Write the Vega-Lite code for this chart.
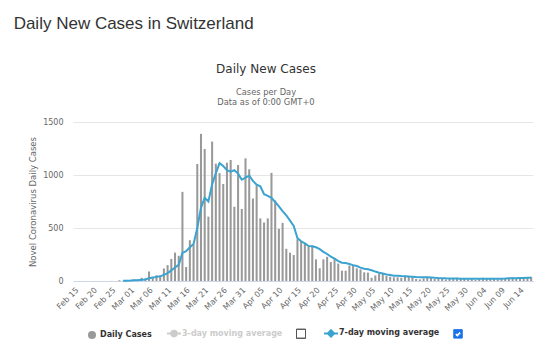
{
  "$schema": "https://vega.github.io/schema/vega-lite/v6.json",
  "background": "white",
  "padding": {"left": 13, "top": 14, "right": 5, "bottom": 5},
  "title": {"text": "Daily New Cases in Switzerland", "anchor": "start", "frame": "bounds", "dx": -15, "font": "Liberation Sans", "fontSize": 17, "fontWeight": "normal", "color": "#333333", "offset": 30},
  "vconcat": [
    {
      "width": 460,
      "height": 159,
      "title": {"text": "Daily New Cases", "subtitle": ["Cases per Day", "Data as of 0:00 GMT+0"], "anchor": "middle", "frame": "group", "dx": -37, "font": "DejaVu Sans", "fontSize": 12, "fontWeight": "normal", "color": "#333333", "subtitleFont": "DejaVu Sans", "subtitleFontSize": 8.3, "subtitleColor": "#666666", "subtitlePadding": 12, "subtitleLineHeight": 10, "offset": 11},
      "data": {"values": [
        {"d": "Feb 15", "c": 0}, {"d": "Feb 16", "c": 0}, {"d": "Feb 17", "c": 0}, {"d": "Feb 18", "c": 0}, {"d": "Feb 19", "c": 0},
        {"d": "Feb 20", "c": 0}, {"d": "Feb 21", "c": 0}, {"d": "Feb 22", "c": 0}, {"d": "Feb 23", "c": 0}, {"d": "Feb 24", "c": 0},
        {"d": "Feb 25", "c": 1}, {"d": "Feb 26", "c": 0}, {"d": "Feb 27", "c": 7}, {"d": "Feb 28", "c": 1, "m": 2}, {"d": "Feb 29", "c": 10, "m": 3},
        {"d": "Mar 01", "c": 9, "m": 4}, {"d": "Mar 02", "c": 15, "m": 6}, {"d": "Mar 03", "c": 16, "m": 8}, {"d": "Mar 04", "c": 30, "m": 12}, {"d": "Mar 05", "c": 24, "m": 15},
        {"d": "Mar 06", "c": 90, "m": 27}, {"d": "Mar 07", "c": 40, "m": 32}, {"d": "Mar 08", "c": 55, "m": 39}, {"d": "Mar 09", "c": 50, "m": 44}, {"d": "Mar 10", "c": 118, "m": 58},
        {"d": "Mar 11", "c": 150, "m": 75}, {"d": "Mar 12", "c": 208, "m": 100}, {"d": "Mar 13", "c": 268, "m": 127}, {"d": "Mar 14", "c": 238, "m": 152}, {"d": "Mar 15", "c": 841, "m": 265},
        {"d": "Mar 16", "c": 132, "m": 282}, {"d": "Mar 17", "c": 385, "m": 318}, {"d": "Mar 18", "c": 345, "m": 350}, {"d": "Mar 19", "c": 1104, "m": 500}, {"d": "Mar 20", "c": 1388, "m": 690},
        {"d": "Mar 21", "c": 1245, "m": 785}, {"d": "Mar 22", "c": 607, "m": 750}, {"d": "Mar 23", "c": 1315, "m": 912}, {"d": "Mar 24", "c": 1107, "m": 1016}, {"d": "Mar 25", "c": 1018, "m": 1112},
        {"d": "Mar 26", "c": 915, "m": 1085}, {"d": "Mar 27", "c": 1116, "m": 1046}, {"d": "Mar 28", "c": 1142, "m": 1032}, {"d": "Mar 29", "c": 700, "m": 1045}, {"d": "Mar 30", "c": 1094, "m": 1013},
        {"d": "Mar 31", "c": 680, "m": 955}, {"d": "Apr 01", "c": 1157, "m": 975}, {"d": "Apr 02", "c": 1054, "m": 995}, {"d": "Apr 03", "c": 778, "m": 944}, {"d": "Apr 04", "c": 903, "m": 909},
        {"d": "Apr 05", "c": 591, "m": 894}, {"d": "Apr 06", "c": 552, "m": 818}, {"d": "Apr 07", "c": 591, "m": 803}, {"d": "Apr 08", "c": 1020, "m": 784}, {"d": "Apr 09", "c": 760, "m": 745},
        {"d": "Apr 10", "c": 492, "m": 705}, {"d": "Apr 11", "c": 548, "m": 660}, {"d": "Apr 12", "c": 304, "m": 620}, {"d": "Apr 13", "c": 267, "m": 570}, {"d": "Apr 14", "c": 245, "m": 520},
        {"d": "Apr 15", "c": 394, "m": 405}, {"d": "Apr 16", "c": 376, "m": 375}, {"d": "Apr 17", "c": 350, "m": 355}, {"d": "Apr 18", "c": 322, "m": 330}, {"d": "Apr 19", "c": 335, "m": 327},
        {"d": "Apr 20", "c": 204, "m": 318}, {"d": "Apr 21", "c": 120, "m": 300}, {"d": "Apr 22", "c": 204, "m": 275}, {"d": "Apr 23", "c": 228, "m": 255}, {"d": "Apr 24", "c": 180, "m": 230},
        {"d": "Apr 25", "c": 214, "m": 212}, {"d": "Apr 26", "c": 164, "m": 188}, {"d": "Apr 27", "c": 97, "m": 172}, {"d": "Apr 28", "c": 97, "m": 169}, {"d": "Apr 29", "c": 146, "m": 161},
        {"d": "Apr 30", "c": 150, "m": 150}, {"d": "May 01", "c": 120, "m": 141}, {"d": "May 02", "c": 110, "m": 126}, {"d": "May 03", "c": 82, "m": 115}, {"d": "May 04", "c": 79, "m": 110},
        {"d": "May 05", "c": 30, "m": 102}, {"d": "May 06", "c": 52, "m": 89}, {"d": "May 07", "c": 68, "m": 78}, {"d": "May 08", "c": 70, "m": 70}, {"d": "May 09", "c": 48, "m": 62},
        {"d": "May 10", "c": 41, "m": 56}, {"d": "May 11", "c": 35, "m": 50}, {"d": "May 12", "c": 35, "m": 50}, {"d": "May 13", "c": 31, "m": 47}, {"d": "May 14", "c": 50, "m": 45},
        {"d": "May 15", "c": 50, "m": 42}, {"d": "May 16", "c": 47, "m": 41}, {"d": "May 17", "c": 20, "m": 38}, {"d": "May 18", "c": 15, "m": 36}, {"d": "May 19", "c": 25, "m": 35},
        {"d": "May 20", "c": 40, "m": 35}, {"d": "May 21", "c": 35, "m": 33}, {"d": "May 22", "c": 20, "m": 30}, {"d": "May 23", "c": 25, "m": 28}, {"d": "May 24", "c": 20, "m": 27},
        {"d": "May 25", "c": 15, "m": 25}, {"d": "May 26", "c": 25, "m": 24}, {"d": "May 27", "c": 20, "m": 23}, {"d": "May 28", "c": 30, "m": 23}, {"d": "May 29", "c": 25, "m": 22},
        {"d": "May 30", "c": 20, "m": 22}, {"d": "May 31", "c": 15, "m": 22}, {"d": "Jun 01", "c": 18, "m": 22}, {"d": "Jun 02", "c": 10, "m": 21}, {"d": "Jun 03", "c": 25, "m": 21},
        {"d": "Jun 04", "c": 30, "m": 22}, {"d": "Jun 05", "c": 25, "m": 22}, {"d": "Jun 06", "c": 25, "m": 22}, {"d": "Jun 07", "c": 20, "m": 22}, {"d": "Jun 08", "c": 15, "m": 22},
        {"d": "Jun 09", "c": 20, "m": 22}, {"d": "Jun 10", "c": 25, "m": 23}, {"d": "Jun 11", "c": 30, "m": 25}, {"d": "Jun 12", "c": 35, "m": 26}, {"d": "Jun 13", "c": 30, "m": 27},
        {"d": "Jun 14", "c": 25, "m": 28}, {"d": "Jun 15", "c": 20, "m": 28}, {"d": "Jun 16", "c": 35, "m": 30}, {"d": "Jun 17", "c": 40, "m": 31}
      ]},
      "encoding": {
        "x": {
          "field": "d", "type": "ordinal", "sort": null,
          "scale": {"paddingInner": 0.45, "paddingOuter": 0.225},
          "axis": {
            "title": null, "ticks": false, "domainColor": "#ccd6eb", "grid": false,
            "values": ["Feb 15", "Feb 20", "Feb 25", "Mar 01", "Mar 06", "Mar 11", "Mar 16", "Mar 21", "Mar 26", "Mar 31", "Apr 05", "Apr 10", "Apr 15", "Apr 20", "Apr 25", "Apr 30", "May 05", "May 10", "May 15", "May 20", "May 25", "May 30", "Jun 04", "Jun 09", "Jun 14"],
            "labelAngle": -45, "labelFont": "DejaVu Sans", "labelFontSize": 8, "labelColor": "#666666", "labelPadding": 5
          }
        }
      },
      "layer": [
        {
          "mark": {"type": "bar", "color": "#999999"},
          "encoding": {
            "y": {
              "field": "c", "type": "quantitative",
              "scale": {"domain": [0, 1500], "nice": false},
              "axis": {
                "title": "Novel Coronavirus Daily Cases", "titleFont": "DejaVu Sans", "titleFontSize": 8.5, "titleFontWeight": "normal", "titleColor": "#666666", "titlePadding": 5,
                "values": [0, 500, 1000, 1500], "format": "d", "ticks": false, "domain": false, "gridColor": "#e6e6e6",
                "labelFont": "DejaVu Sans", "labelFontSize": 8, "labelColor": "#666666", "labelPadding": 10
              }
            },
            "color": {
              "datum": "Daily Cases",
              "scale": {
                "domain": ["Daily Cases", "3-day moving average", "b1", "7-day moving average", "b2"],
                "range": ["#999999", "#cccccc", "#555555", "#3ba3d0", "#1a73e8"]
              },
              "legend": {
                "orient": "none", "legendX": 12, "legendY": 207, "direction": "horizontal", "title": null,
                "symbolSize": 196, "symbolOffset": 3, "columnPadding": 11,
                "labelFont": "DejaVu Sans", "labelFontSize": 8, "labelFontWeight": "bold", "labelColor": "#333333",
                "labelExpr": "datum.label == 'b1' || datum.label == 'b2' ? '' : datum.label",
                "encode": {
                  "symbols": {"update": {
                    "shape": {"signal": "datum.value == 'Daily Cases' ? 'circle' : datum.value == '3-day moving average' ? 'M-1,0L1,0M0.4,0A0.4,0.4,0,1,1,-0.4,0A0.4,0.4,0,1,1,0.4,0Z' : datum.value == '7-day moving average' ? 'M-1,0L1,0M0,-0.45L0.45,0L0,0.45L-0.45,0Z' : datum.value == 'b1' ? 'M-1,-1L1,-1L1,1L-1,1ZM-1,-1L-1,1L1,1L1,-1Z' : 'M-1,-1L1,-1L1,1L-1,1ZM-0.748,0.198L-0.143,0.803L0.755,-0.159L0.345,-0.541L-0.157,-0.003L-0.352,-0.198Z'"},
                    "size": {"signal": "datum.value == 'Daily Cases' ? 64 : datum.value == 'b1' ? 81 : datum.value == 'b2' ? 72 : 196"},
                    "strokeWidth": {"signal": "datum.value == 'Daily Cases' ? 0 : (datum.value == 'b1' || datum.value == 'b2') ? 1 : 2"},
                    "opacity": {"value": 1},
                    "fillOpacity": {"value": 1},
                    "strokeOpacity": {"value": 1}
                  }},
                  "labels": {"update": {"fill": {"signal": "datum.value == '3-day moving average' ? '#cccccc' : '#333333'"}}}
                }
              }
            }
          }
        },
        {
          "mark": {"type": "line", "strokeWidth": 2},
          "encoding": {
            "y": {"field": "m", "type": "quantitative"},
            "color": {"datum": "7-day moving average"}
          }
        }
      ]
    }
  ],
  "config": {"view": {"stroke": null}}
}
